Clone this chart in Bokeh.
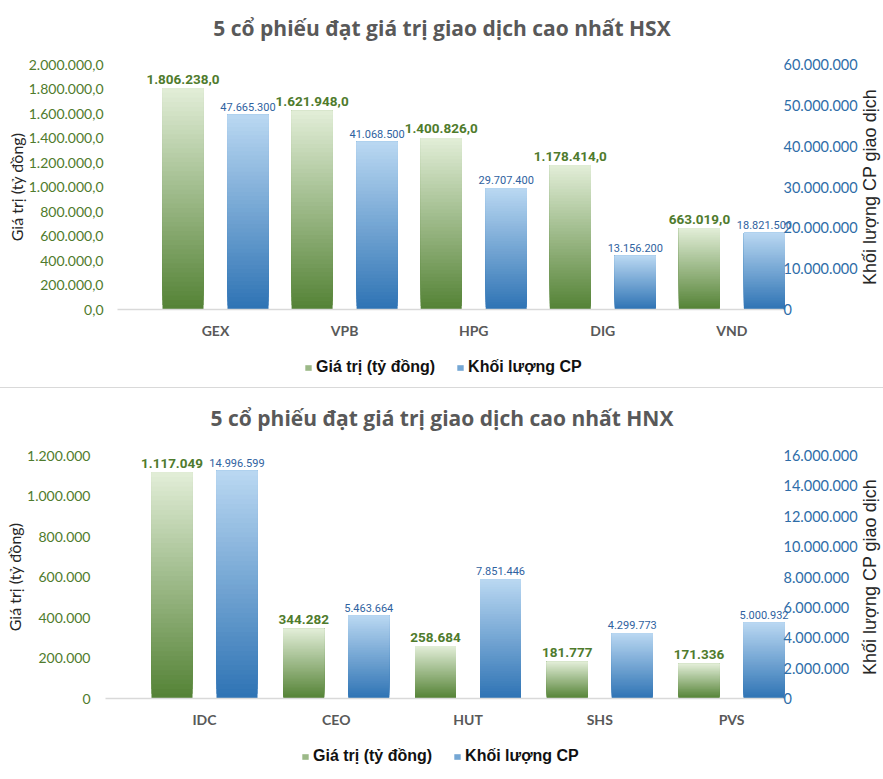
from bokeh.plotting import figure
from bokeh.models import Range1d, LinearAxis, FixedTicker, Legend, LegendItem, Div, Label
from bokeh.layouts import column
from bokeh.embed import file_html
from bokeh.resources import INLINE
from bokeh.core.properties import value

# ---------------- data ----------------
hsx_title = "5 cổ phiếu đạt giá trị giao dịch cao nhất HSX"
hsx_codes = ["GEX", "VPB", "HPG", "DIG", "VND"]
hsx_value = [1806238.0, 1621948.0, 1400826.0, 1178414.0, 663019.0]
hsx_volume = [47665300, 41068500, 29707400, 13156200, 18821500]
hsx_left_ticks = [0, 200000, 400000, 600000, 800000, 1000000, 1200000, 1400000, 1600000, 1800000, 2000000]
hsx_right_ticks = [0, 10000000, 20000000, 30000000, 40000000, 50000000, 60000000]

hnx_title = "5 cổ phiếu đạt giá trị giao dịch cao nhất HNX"
hnx_codes = ["IDC", "CEO", "HUT", "SHS", "PVS"]
hnx_value = [1117049, 344282, 258684, 181777, 171336]
hnx_volume = [14996599, 5463664, 7851446, 4299773, 5000932]
hnx_left_ticks = [0, 200000, 400000, 600000, 800000, 1000000, 1200000]
hnx_right_ticks = [0, 2000000, 4000000, 6000000, 8000000, 10000000, 12000000, 14000000, 16000000]

series_names = ["Giá trị (tỷ đồng)", "Khối lượng CP"]
left_title = "Giá trị (tỷ đồng)"
right_title = "Khối lượng CP giao dịch"

# ---------------- style ----------------
GREEN_BOTTOM, GREEN_TOP = "#548235", "#e2eed8"
BLUE_BOTTOM, BLUE_TOP = "#2e73b4", "#bad8f2"
GREEN_TXT = "#4f7b2d"
BLUE_TXT = "#2f62a0"
BLUE_AX = "#2e6da8"
GRAY = "#595959"
W = 883
NSTRIP = 48


def vn(x, decimals):
    s = f"{x:,.{decimals}f}"
    return s.replace(",", "_").replace(".", ",").replace("_", ".")


def hex2rgb(h):
    h = h.lstrip("#")
    return tuple(int(h[i:i + 2], 16) for i in (0, 2, 4))


def mix(c1, c2, t):
    a, b = hex2rgb(c1), hex2rgb(c2)
    return "#%02x%02x%02x" % tuple(int(round(a[i] + (b[i] - a[i]) * t)) for i in range(3))


def gradient_bars(p, xs, vals, width, c_bottom, c_top, y_range_name="default", n=NSTRIP):
    left, right, bottom, top, color = [], [], [], [], []
    for k in range(n):
        c = mix(c_bottom, c_top, (k + 0.5) / n)
        for x, v in zip(xs, vals):
            left.append(x - width / 2)
            right.append(x + width / 2)
            bottom.append(v * k / n)
            top.append(v)
            color.append(c)
    return p.quad(left=left, right=right, bottom=bottom, top=top, fill_color=color,
                  line_color=None, y_range_name=y_range_name)


def make_chart(title, codes, vals, vols, lticks, rticks, ldec, height, geo,
               title_standoff, legend_loc, lstandoff):
    # geo: pixel layout (frame top, top tick y, baseline y, first category x, category step,
    #                    plot left, plot right, right title x)
    ftop_px, top_px, base_px, x0_px, step_px, pl_px, pr_px, rt_px = geo
    plot_h = base_px - top_px
    below = height - base_px
    above = top_px - ftop_px
    lmax, rmax = lticks[-1], rticks[-1]
    s = -x0_px / step_px
    e = s + W / step_px
    xl = s + pl_px / step_px
    xr = s + pr_px / step_px
    off = 32.5 / step_px
    bw = 41.0 / step_px

    p = figure(width=W, height=height, x_range=Range1d(s, e),
               y_range=Range1d(-below * lmax / plot_h, lmax + above * lmax / plot_h),
               output_backend="svg", toolbar_location=None,
               min_border_left=0, min_border_right=0,
               min_border_top=ftop_px, min_border_bottom=0)
    p.outline_line_color = None
    p.background_fill_color = "white"
    p.border_fill_color = "white"
    p.xgrid.grid_line_color = None
    p.ygrid.grid_line_color = None
    p.extra_y_ranges = {"vol": Range1d(-below * rmax / plot_h, rmax + above * rmax / plot_h)}

    idx = list(range(len(codes)))
    xg = [i - off for i in idx]
    xb = [i + off for i in idx]
    rg = gradient_bars(p, xg, vals, bw, GREEN_BOTTOM, GREEN_TOP)
    rb = gradient_bars(p, xb, vols, bw, BLUE_BOTTOM, BLUE_TOP, y_range_name="vol")

    p.text(x=xg, y=vals, text=[vn(v, ldec) for v in vals], text_align="center",
           text_baseline="alphabetic", y_offset=-9,
           text_font=value("Roboto"), text_font_style="bold",
           text_font_size="13.5px", text_color=GREEN_TXT)
    p.text(x=xb, y=vols, text=[vn(v, 0) for v in vols], text_align="center",
           text_baseline="alphabetic", y_offset=-8, y_range_name="vol",
           text_font=value("Roboto"), text_font_size="11px",
           text_color=BLUE_TXT)

    # title
    p.title.text = title
    p.title.align = "center"
    p.title.offset = -1
    p.title.standoff = title_standoff
    p.title.text_font = "Open Sans"
    p.title.text_font_style = "bold"
    p.title.text_font_size = "21px"
    p.title.text_color = GRAY

    # x axis (at y = 0)
    xa = p.xaxis[0]
    xa.fixed_location = 0
    xa.bounds = (xl, xr)
    xa.ticker = FixedTicker(ticks=idx)
    xa.major_label_overrides = {i: c for i, c in zip(idx, codes)}
    xa.axis_line_color = "#d9d9d9"
    xa.axis_line_width = 1.5
    xa.major_tick_line_color = None
    xa.minor_tick_line_color = None
    xa.major_tick_out = 0
    xa.major_tick_in = 0
    xa.major_label_standoff = 12
    xa.major_label_text_font = "Lato"
    xa.major_label_text_font_style = "bold"
    xa.major_label_text_font_size = "14px"
    xa.major_label_text_color = GRAY

    # left axis
    ya = p.yaxis[0]
    ya.fixed_location = xl
    ya.bounds = (0, lmax)
    ya.ticker = FixedTicker(ticks=lticks)
    ya.major_label_overrides = {t: vn(t, ldec) for t in lticks}
    ya.axis_line_color = None
    ya.major_tick_line_color = None
    ya.minor_tick_line_color = None
    ya.major_tick_out = 0
    ya.major_tick_in = 0
    ya.major_label_standoff = lstandoff
    ya.major_label_text_font = "Lato"
    ya.major_label_text_font_size = "14px"
    ya.major_label_text_color = GREEN_TXT
    ya.axis_label = left_title
    ya.axis_label_standoff = 0
    ya.axis_label_text_font = "Lato"
    ya.axis_label_text_font_style = "normal"
    ya.axis_label_text_font_size = "16px"
    ya.axis_label_text_color = "#262626"

    # right axis
    ra = LinearAxis(y_range_name="vol", ticker=FixedTicker(ticks=rticks))
    ra.fixed_location = xr
    ra.bounds = (0, rmax)
    ra.major_label_overrides = {t: vn(t, 0) for t in rticks}
    ra.axis_line_color = None
    ra.major_tick_line_color = None
    ra.minor_tick_line_color = None
    ra.major_tick_out = 0
    ra.major_tick_in = 0
    ra.major_label_standoff = 0
    ra.major_label_text_font = "Lato"
    ra.major_label_text_font_size = "14.5px"
    ra.major_label_text_color = BLUE_AX
    p.add_layout(ra, "right")

    # right axis title (reads bottom to top)
    p.add_layout(Label(x=s + rt_px / step_px, y=lmax / 2, text=right_title, angle=90,
                       angle_units="deg", text_align="center", text_baseline="middle",
                       text_font="Liberation Sans", text_font_size="18px",
                       text_color="#262626"))

    # legend (swatches taken from the middle strip of the gradient bars)
    mid = (NSTRIP // 2) * len(codes)
    legend = Legend(items=[LegendItem(label=series_names[0], renderers=[rg], index=mid),
                           LegendItem(label=series_names[1], renderers=[rb], index=mid)],
                    location=legend_loc, orientation="horizontal",
                    border_line_color=None, background_fill_alpha=0,
                    padding=0, margin=0, spacing=21, glyph_width=8, glyph_height=7,
                    label_standoff=4, label_text_font="Liberation Sans",
                    label_text_font_style="bold", label_text_font_size="16px",
                    label_text_color="#111111")
    p.add_layout(legend)
    return p


p1 = make_chart(hsx_title, hsx_codes, hsx_value, hsx_volume, hsx_left_ticks, hsx_right_ticks, 1,
                387, (44, 64, 309, 215, 129.1, 117, 783, 869), 6, (304, 11), 14)
sep = Div(text="", width=W, height=1, margin=0, styles={"background-color": "#d9d9d9"})
p2 = make_chart(hnx_title, hnx_codes, hnx_value, hnx_volume, hnx_left_ticks, hnx_right_ticks, 0,
                390, (46, 67, 310, 204, 131.75, 105, 783, 869), 6, (301, 13), 15)

layout = column(p1, sep, p2, spacing=0)
open("out.html", "w").write(file_html(layout, INLINE))
